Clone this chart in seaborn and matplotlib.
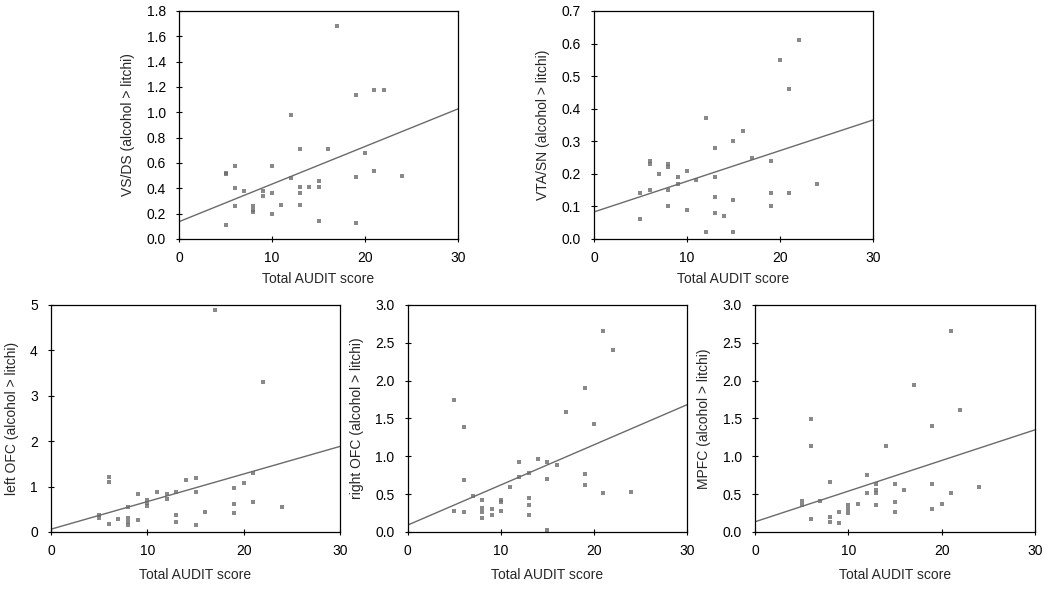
import numpy as np
import pandas as pd
import matplotlib
matplotlib.use("Agg")
import matplotlib.pyplot as plt
import seaborn as sns

# AUDIT score vs. activation per region
vsds_x = [17, 19, 21, 22, 12, 13, 16, 20, 5, 5, 6, 10, 19, 21, 24, 12, 15, 6, 7, 9, 10,
          13, 13, 14, 15, 9, 11, 13, 6, 8, 8, 8, 10, 5, 15, 19]
vsds_y = [1.68, 1.14, 1.18, 1.18, 0.98, 0.71, 0.71, 0.68, 0.52, 0.51, 0.58, 0.58, 0.49, 0.54,
          0.50, 0.48, 0.46, 0.40, 0.38, 0.38, 0.36, 0.41, 0.36, 0.41, 0.41, 0.34, 0.27, 0.27,
          0.26, 0.26, 0.23, 0.21, 0.20, 0.11, 0.14, 0.13]

vta_x = [22, 20, 21, 12, 16, 15, 13, 17, 19, 6, 6, 8, 8, 7, 10, 9, 9, 11, 13, 5, 6, 8,
         19, 21, 24, 13, 15, 8, 10, 19, 13, 14, 5, 12, 15]
vta_y = [0.61, 0.55, 0.46, 0.37, 0.33, 0.30, 0.28, 0.25, 0.24, 0.24, 0.23, 0.23, 0.22, 0.20,
         0.21, 0.19, 0.17, 0.18, 0.19, 0.14, 0.15, 0.15, 0.14, 0.14, 0.17, 0.13, 0.12, 0.10,
         0.09, 0.10, 0.08, 0.07, 0.06, 0.02, 0.02]

lofc_x = [17, 22, 6, 6, 15, 14, 21, 20, 19, 9, 11, 12, 13, 15, 10, 10, 10, 12, 8, 21, 19,
          24, 16, 19, 5, 5, 7, 8, 8, 8, 9, 13, 13, 6, 15]
lofc_y = [4.90, 3.30, 1.22, 1.11, 1.18, 1.14, 1.31, 1.08, 0.97, 0.84, 0.87, 0.84, 0.87, 0.89,
          0.70, 0.64, 0.57, 0.73, 0.54, 0.67, 0.62, 0.54, 0.44, 0.42, 0.38, 0.31, 0.29, 0.31,
          0.22, 0.16, 0.27, 0.37, 0.23, 0.18, 0.16]

rofc_x = [21, 22, 19, 5, 17, 20, 6, 14, 12, 15, 16, 13, 12, 19, 6, 15, 11, 19, 21, 24, 7,
          13, 8, 10, 10, 13, 5, 6, 8, 8, 8, 9, 9, 10, 13, 15]
rofc_y = [2.66, 2.40, 1.90, 1.75, 1.58, 1.43, 1.39, 0.97, 0.93, 0.92, 0.88, 0.78, 0.73, 0.76,
          0.69, 0.70, 0.60, 0.62, 0.51, 0.53, 0.48, 0.45, 0.42, 0.42, 0.39, 0.36, 0.28, 0.26,
          0.32, 0.26, 0.19, 0.30, 0.22, 0.28, 0.23, 0.03]

mpfc_x = [21, 17, 22, 6, 19, 6, 14, 12, 8, 13, 15, 19, 24, 16, 13, 13, 12, 21, 5, 7, 5,
          11, 10, 10, 10, 13, 15, 20, 15, 19, 9, 6, 8, 8, 9]
mpfc_y = [2.65, 1.94, 1.61, 1.49, 1.40, 1.14, 1.14, 0.75, 0.66, 0.64, 0.64, 0.64, 0.60, 0.56,
          0.55, 0.52, 0.51, 0.51, 0.41, 0.41, 0.35, 0.37, 0.36, 0.30, 0.25, 0.36, 0.39, 0.37,
          0.27, 0.31, 0.26, 0.17, 0.20, 0.13, 0.12]

ylabels = ["VS/DS (alcohol > litchi)", "VTA/SN (alcohol > litchi)",
           "left OFC (alcohol > litchi)", "right OFC (alcohol > litchi)",
           "MPFC (alcohol > litchi)"]

sns.set_style("ticks")
plt.rcParams["font.family"] = ["Liberation Sans", "DejaVu Sans"]
plt.rcParams["font.size"] = 10

fig = plt.figure(figsize=(10.5, 5.93), dpi=100)

# axes boxes in figure fractions
boxes = [[0.1705, 0.597, 0.2657, 0.3845],
         [0.5657, 0.597, 0.2657, 0.3845],
         [0.0486, 0.1029, 0.2752, 0.3828],
         [0.3883, 0.1029, 0.2660, 0.3828],
         [0.7190, 0.1029, 0.2667, 0.3828]]
ylims = [(0, 1.8), (0, 0.7), (0, 5), (0, 3.0), (0, 3.0)]
ysteps = [0.2, 0.1, 1, 0.5, 0.5]
yfmts = ["{:.1f}", "{:.1f}", "{:.0f}", "{:.1f}", "{:.1f}"]
series = [(vsds_x, vsds_y), (vta_x, vta_y), (lofc_x, lofc_y),
          (rofc_x, rofc_y), (mpfc_x, mpfc_y)]

for i, (xs, ys) in enumerate(series):
    ax = fig.add_axes(boxes[i])
    df = pd.DataFrame({"audit": xs, "val": ys})
    ax.set_xlim(0, 30)
    ax.set_ylim(*ylims[i])
    sns.regplot(data=df, x="audit", y="val", ax=ax, ci=None, truncate=False,
                marker="s", color="#6a6a6a",
                scatter_kws={"s": 8, "linewidths": 0, "color": "#6c6c6c"},
                line_kws={"lw": 1.0, "color": "#6a6a6a"})
    ax.set_xlim(0, 30)
    ax.set_ylim(*ylims[i])
    ax.set_xticks([0, 10, 20, 30])
    yt = np.arange(ylims[i][0], ylims[i][1] + 1e-9, ysteps[i])
    ax.set_yticks(yt)
    ax.set_yticklabels([yfmts[i].format(v) for v in yt])
    for s in ax.spines.values():
        s.set_visible(True)
        s.set_color("black")
        s.set_linewidth(0.9)
    ax.tick_params(direction="inout", length=5, width=0.8, labelsize=10, colors="black")
    ax.tick_params(axis="x", pad=6)
    ax.tick_params(axis="y", pad=7)
    ax.set_xlabel("Total AUDIT score", fontsize=10, labelpad=5 if i < 2 else 7)
    ax.set_ylabel(ylabels[i], fontsize=10, labelpad=8)

fig.savefig("out.png", dpi=100)
